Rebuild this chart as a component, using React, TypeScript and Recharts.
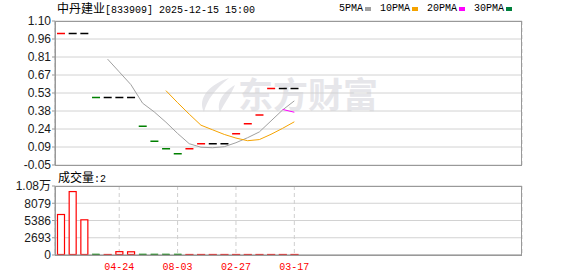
import { Bar, CartesianGrid, ComposedChart, Line, XAxis, YAxis } from "recharts";

const stockName = "中丹建业";
const stockInfo = "[833909] 2025-12-15 15:00";
const volumeTitle = "成交量";
const lastVolumeText = ":2";

// 21 trading days, chart leaves room for 40
const totalSlots = 40;
const closes = [
  1.0, 1.0, 1.0, 0.49, 0.49, 0.49, 0.49, 0.26, 0.14, 0.08, 0.04, 0.08, 0.12, 0.12,
  0.12, 0.2, 0.28, 0.35, 0.56, 0.56, 0.56,
];
const ma5 = [
  null, null, null, null, 0.796, 0.694, 0.592, 0.444, 0.374, 0.292, 0.202, 0.12, 0.092,
  0.088, 0.096, 0.128, 0.168, 0.214, 0.302, 0.39, 0.462,
];
const ma10 = [
  null, null, null, null, null, null, null, null, null, 0.544, 0.448, 0.356, 0.268,
  0.231, 0.194, 0.165, 0.144, 0.153, 0.195, 0.243, 0.295,
];
const ma20 = [
  null, null, null, null, null, null, null, null, null, null, null, null, null, null,
  null, null, null, null, null, 0.3935, 0.3715,
];
const ma30: (number | null)[] = [];
const volumes = [
  6400, 9980, 5570, 15, 10, 600, 580, 20, 15, 15, 15, 10, 10, 10, 10, 10, 10, 10, 10,
  10, 2,
];

const xTickSlots = [6, 11, 16, 21];
const xTickLabels = ["04-24", "08-03", "02-27", "03-17"];

const priceTicks = [1.1, 0.95625, 0.8125, 0.66875, 0.525, 0.38125, 0.2375, 0.09375, -0.05];
const priceTickLabels = ["1.10", "0.96", "0.81", "0.67", "0.53", "0.38", "0.24", "0.09", "-0.05"];
const volumeTicks = [0, 2693, 5386, 8079, 10772];
const volumeTickLabels = ["0", "2693", "5386", "8079", "1.08万"];

const maLegend = [
  { key: "ma5", name: "5PMA", color: "#a0a0a0" },
  { key: "ma10", name: "10PMA", color: "#f5a300" },
  { key: "ma20", name: "20PMA", color: "#ff00ff" },
  { key: "ma30", name: "30PMA", color: "#00803c" },
];

const UP = "#ff0000";
const DOWN = "#008000";
const FLAT = "#000000";

const rows = Array.from({ length: totalSlots }, (_, i) => {
  const close = closes[i] ?? null;
  const prev = i > 0 ? closes[i - 1] : undefined;
  let candleColor = UP;
  if (close != null && prev != null) {
    candleColor = close > prev ? UP : close < prev ? DOWN : FLAT;
  }
  return {
    slot: i + 1,
    close,
    ma5: ma5[i] ?? null,
    ma10: ma10[i] ?? null,
    ma20: ma20[i] ?? null,
    ma30: ma30[i] ?? null,
    volume: volumes[i] ?? null,
    candleColor,
    volUp: prev == null || close == null || close >= prev,
  };
});

const labelFont = "'Liberation Sans', 'Noto Sans CJK SC', sans-serif";
const monoFont = "'Liberation Mono', 'DejaVu Sans Mono', monospace";
const cjkFont = "'Noto Sans CJK SC', sans-serif";

function CandleDash(props: any) {
  const { x, y, width, payload } = props;
  if (payload == null || payload.close == null) return null;
  return (
    <line x1={x} x2={x + width} y1={y} y2={y} stroke={payload.candleColor} strokeWidth={1.5} />
  );
}

function VolumeBar(props: any) {
  const { x, y, width, height, payload } = props;
  if (payload == null || payload.volume == null) return null;
  const h = Math.max(height, 1);
  const top = y + height - h;
  if (payload.volUp) {
    return (
      <rect
        x={x + 0.5}
        y={top + 0.5}
        width={width - 1}
        height={Math.max(h - 1, 0.5)}
        fill="#ffffff"
        stroke={UP}
        strokeWidth={1.2}
      />
    );
  }
  return (
    <rect x={x + 0.5} y={top} width={width - 1} height={Math.max(h, 1.5)} fill={DOWN} stroke={DOWN} strokeWidth={0.6} />
  );
}

const frame = {
  position: "absolute" as const,
  border: "1px solid #999",
  boxSizing: "border-box" as const,
  pointerEvents: "none" as const,
};

export default function App() {
  return (
    <div
      style={{
        position: "absolute",
        left: 0,
        top: 0,
        width: 578,
        height: 276,
        background: "#fff",
        overflow: "hidden",
      }}
    >
      {/* watermark */}
      <svg width={578} height={276} style={{ position: "absolute", left: 0, top: 0 }}>
        <path d="M229 78 C210 84 197 98 204 112 C207 100 215 89 229 78 Z" fill="#e6e6ea" />
        <path d="M235 85 C223 92 216 103 220 112 C225 102 231 95 235 85 Z" fill="#e6e6ea" />
        <text x={238} y={108} fontSize={35} fontWeight={700} fill="#e6e6ea" fontFamily={cjkFont}>
          东方财富
        </text>
      </svg>

      <div
        style={{
          position: "absolute",
          left: 57,
          top: 1,
          lineHeight: "14px",
          whiteSpace: "nowrap",
          color: "#000",
        }}
      >
        <span style={{ fontFamily: cjkFont, fontSize: 12 }}>{stockName}</span>
        <span style={{ fontFamily: monoFont, fontSize: 10 }}>{stockInfo}</span>
      </div>

      <div
        style={{
          position: "absolute",
          left: 339,
          top: 2,
          lineHeight: "14px",
          display: "flex",
          alignItems: "center",
          whiteSpace: "nowrap",
          fontFamily: monoFont,
          fontSize: 10,
          color: "#000",
        }}
      >
        {maLegend.map((m) => (
          <span key={m.key} style={{ display: "inline-flex", alignItems: "center", marginRight: 9 }}>
            {m.name}
            <span
              style={{
                display: "inline-block",
                width: 6,
                height: 4,
                marginLeft: 2,
                background: m.color,
              }}
            />
          </span>
        ))}
      </div>

      <div style={{ position: "absolute", left: 0, top: 0 }}>
        <ComposedChart
          width={578}
          height={180}
          data={rows}
          margin={{ top: 21, right: 56, bottom: 15, left: 0 }}
          barSize={8}
        >
          <CartesianGrid stroke="#d2d2d2" horizontal={true} vertical={false} />
          <CartesianGrid
            stroke="#cfcfcf"
            strokeDasharray="4 3"
            horizontal={false}
            vertical={true}
          />
          <XAxis
            dataKey="slot"
            type="category"
            ticks={xTickSlots}
            tick={false}
            tickLine={false}
            axisLine={false}
            height={0}
          />
          <YAxis
            type="number"
            domain={[-0.05, 1.1]}
            ticks={priceTicks}
            allowDataOverflow
            width={55}
            interval={0}
            tickSize={3}
            tickMargin={1}
            tickLine={{ stroke: "#999" }}
            axisLine={{ stroke: "#999" }}
            tick={{ fill: "#1a1a1a", fontSize: 12, fontFamily: labelFont }}
            tickFormatter={(v: number) => priceTickLabels[priceTicks.indexOf(v)] ?? ""}
          />
          <Bar dataKey="close" shape={CandleDash} isAnimationActive={false} />
          {maLegend.map((m) => (
            <Line
              key={m.key}
              type="linear"
              dataKey={m.key}
              stroke={m.color}
              strokeWidth={1}
              dot={false}
              activeDot={false}
              isAnimationActive={false}
            />
          ))}
        </ComposedChart>
      </div>
      <div style={{ ...frame, left: 55, top: 21, width: 467, height: 145 }} />

      <div
        style={{
          position: "absolute",
          left: 58,
          top: 170,
          lineHeight: "14px",
          whiteSpace: "nowrap",
          color: "#000",
        }}
      >
        <span style={{ fontFamily: cjkFont, fontSize: 12 }}>{volumeTitle}</span>
        <span style={{ fontFamily: monoFont, fontSize: 10 }}>{lastVolumeText}</span>
      </div>

      <div style={{ position: "absolute", left: 0, top: 170 }}>
        <ComposedChart
          width={578}
          height={106}
          data={rows}
          margin={{ top: 16, right: 56, bottom: 0, left: 0 }}
          barSize={8}
        >
          <CartesianGrid stroke="#d2d2d2" horizontal={true} vertical={false} />
          <CartesianGrid
            stroke="#cfcfcf"
            strokeDasharray="4 3"
            horizontal={false}
            vertical={true}
          />
          <XAxis
            dataKey="slot"
            type="category"
            ticks={xTickSlots}
            interval={0}
            height={21}
            tickLine={false}
            axisLine={{ stroke: "#999" }}
            tickMargin={2}
            tick={{ fill: "#ff0000", fontSize: 10, fontFamily: monoFont }}
            tickFormatter={(v: number) => xTickLabels[xTickSlots.indexOf(v)] ?? ""}
          />
          <YAxis
            type="number"
            domain={[0, 10772]}
            ticks={volumeTicks}
            allowDataOverflow
            width={55}
            interval={0}
            tickSize={3}
            tickMargin={1}
            tickLine={{ stroke: "#999" }}
            axisLine={{ stroke: "#999" }}
            tick={{ fill: "#1a1a1a", fontSize: 12, fontFamily: labelFont }}
            tickFormatter={(v: number) => volumeTickLabels[volumeTicks.indexOf(v)] ?? ""}
          />
          <Bar dataKey="volume" shape={VolumeBar} isAnimationActive={false} />
        </ComposedChart>
      </div>
      <div style={{ ...frame, left: 55, top: 186, width: 467, height: 70 }} />
    </div>
  );
}
